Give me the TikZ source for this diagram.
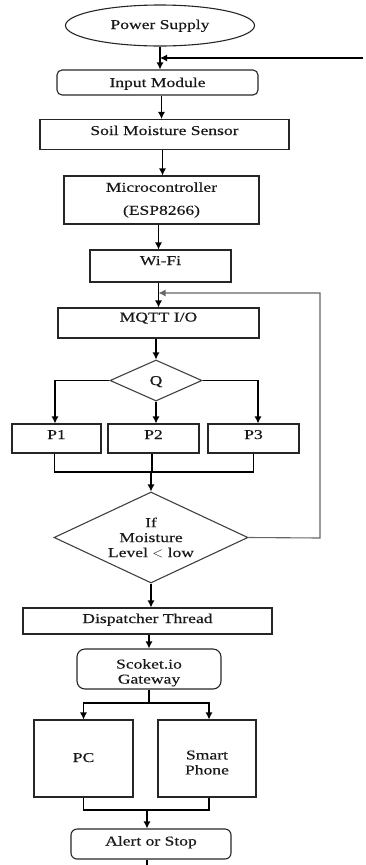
\documentclass[tikz,border=0pt]{standalone}
\usepackage{fontspec}
\setmainfont{Liberation Serif}[FakeStretch=1.3,FakeBold=0.4]
\usetikzlibrary{shapes.geometric,arrows.meta}
\begin{document}
\begin{tikzpicture}[x=1pt,y=-1pt,
  every node/.style={font=\fontsize{13.5}{15}\selectfont, inner sep=0pt, text=black!90},
  box/.style={draw=black!85, line width=1.1pt, rectangle},
  rbox/.style={box, rounded corners=5pt},
  tup/.style={text height=9pt, text depth=#1},
  oval/.style={draw=black!85, line width=1.1pt, ellipse},
  dia/.style={draw=black!75, line width=1.1pt, diamond},
  arr/.style={line width=1.1pt, -{Latex[length=7pt,width=7pt]}},
  ln/.style={line width=1.1pt},
  loop/.style={draw=black!60, line width=1.4pt}
]
\useasboundingbox (0,0) rectangle (365,865);

\node[oval, minimum width=189pt, minimum height=41pt, tup=2pt] (ps) at (160,25.5) {Power Supply};
\node[rbox, minimum width=201pt, minimum height=25pt, tup=0pt] (im) at (157.5,82.5) {Input Module};
\node[box, minimum width=249pt, minimum height=30pt, tup=8pt] (soil) at (164.5,134.5) {Soil Moisture Sensor};
\node[box, minimum width=195pt, minimum height=48pt, align=center, font=\fontsize{13.5}{23}\selectfont] (mc) at (161.5,200) {Microcontroller\\(ESP8266)};
\node[box, minimum width=141pt, minimum height=32pt, tup=11pt] (wifi) at (160.5,266) {Wi-Fi};
\node[box, minimum width=201pt, minimum height=30pt, tup=12pt] (mqtt) at (158.5,323) {MQTT I/O};
\node[dia, minimum width=92pt, minimum height=41pt, aspect=2.24, tup=0pt] (q) at (156,380.5) {Q};
\node[box, minimum width=89pt, minimum height=29pt, tup=8pt] (p1) at (56.5,438.5) {P1};
\node[box, minimum width=91pt, minimum height=29pt, tup=8pt] (p2) at (153.5,438.5) {P2};
\node[box, minimum width=91pt, minimum height=29pt, tup=8pt] (p3) at (253.5,438.5) {P3};
\node[dia, minimum width=194pt, minimum height=91pt, aspect=2.13, align=center] (dec) at (151,537.5) {If\\Moisture\\Level $<$ low};
\node[box, minimum width=249pt, minimum height=26pt, tup=5pt] (disp) at (147.5,621) {Dispatcher Thread};
\node[rbox, rounded corners=8pt, minimum width=144pt, minimum height=40pt, align=center] (gw) at (149,669) {\rule{0pt}{17pt}Scoket.io\\Gateway};
\node[box, minimum width=99pt, minimum height=77pt, tup=2pt] (pc) at (83.5,758.5) {PC};
\node[box, minimum width=98pt, minimum height=77pt, align=center] (sp) at (207,758.5) {\rule{0pt}{17pt}Smart\\Phone};
\node[rbox, rounded corners=6pt, minimum width=160pt, minimum height=30pt, tup=6pt] (al) at (151,844) {Alert or Stop};

\coordinate (fb) at (363,58);
\coordinate (lp1) at (320,538);
\coordinate (lp2) at (320,293);
\coordinate (m1) at (151,472);
\coordinate (m2) at (149,703);
\coordinate (m3) at (147,810);
\coordinate (bot) at (147,865);

\draw[arr] (ps.south) -- (ps.south |- im.north);
\draw[arr] (fb) -- (fb -| ps.south);
\draw[arr] ([xshift=4pt]im.south) -- ([xshift=4pt]im.south |- soil.north);
\draw[arr] ([xshift=-2pt]soil.south) -- ([xshift=-2pt]soil.south |- mc.north);
\draw[arr] (mqtt.north |- mc.south) -- (mqtt.north |- wifi.north);
\draw[ln] (mqtt.north |- wifi.south) -- (mqtt.north |- lp2);
\draw[arr] (mqtt.north |- lp2) -- (mqtt.north);
\draw[loop, arr] (dec.east) -- (lp1) -- (lp2) -- (lp2 -| mqtt.north);
\draw[arr] (q.north |- mqtt.south) -- (q.north);
\draw[arr] (q.west) -| ([xshift=-1.5pt]p1.north);
\draw[arr] (q.east) -| ([xshift=4.5pt]p3.north);
\draw[arr] (q.south) -- (q.south |- p2.north);
\draw[ln] ([xshift=-2pt]p1.south) |- (m1);
\draw[ln] (p3.south) |- (m1);
\draw[ln] ([xshift=-1.5pt]p2.south) -- ([xshift=-1.5pt]p2.south |- m1);
\draw[arr] (m1) -- (dec.north);
\draw[arr] (dec.south) -- (dec.south |- disp.north);
\draw[arr] (gw.south |- disp.south) -- (gw.north);
\draw[ln] (gw.south) -- (m2);
\draw[arr] (m2) -| (pc.north);
\draw[arr] (m2) -| ([xshift=2pt]sp.north);
\draw[ln] (pc.south) |- (m3);
\draw[ln] ([xshift=2pt]sp.south) |- (m3);
\draw[arr] (m3) -- (m3 |- al.north);
\draw[ln] (m3 |- al.south) -- (bot);
\end{tikzpicture}
\end{document}
